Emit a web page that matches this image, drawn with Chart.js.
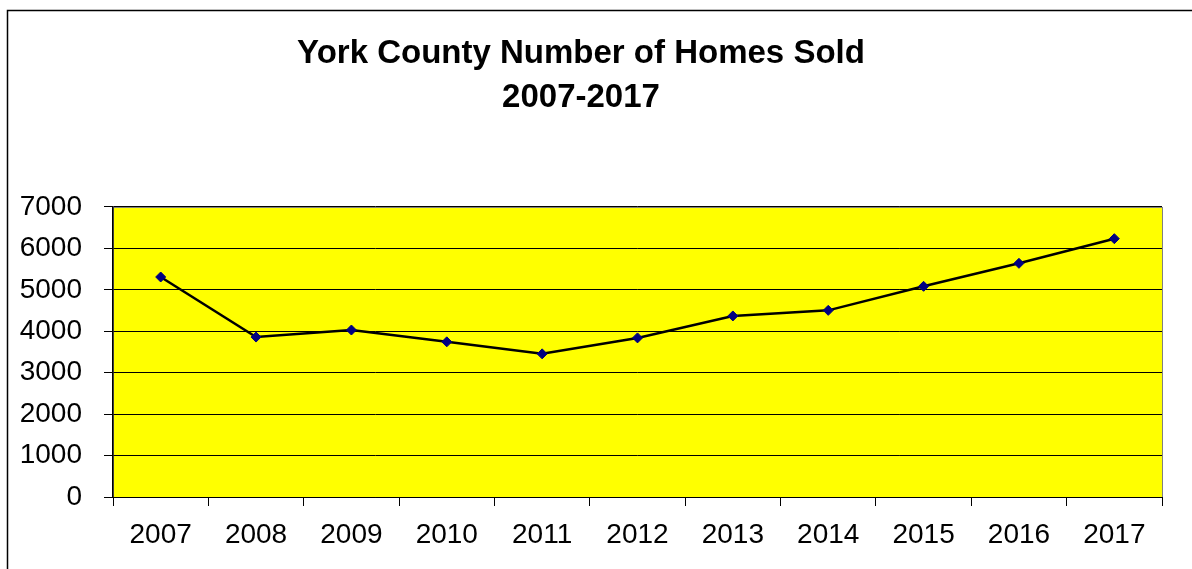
<!DOCTYPE html>
<html>
<head>
<meta charset="utf-8">
<script src="https://cdn.jsdelivr.net/npm/chart.js@4"></script>
<style>
  html, body { margin: 0; padding: 0; background: #fff; }
  canvas { display: block; }
</style>
</head>
<body>
<canvas id="homesChart" width="1192" height="569"></canvas>
<script>
const years = ['2007', '2008', '2009', '2010', '2011', '2012', '2013', '2014', '2015', '2016', '2017'];
const homesSold = [5310, 3860, 4030, 3745, 3455, 3840, 4370, 4505, 5085, 5640, 6235];
const yTicks = [0, 1000, 2000, 3000, 4000, 5000, 6000, 7000];

// yellow plot area, grey frame, outer box
const plotBackground = {
    id: 'plotBackground',
    beforeDraw(chart) {
        const { ctx, chartArea: a } = chart;
        ctx.save();
        ctx.fillStyle = '#ffff00';
        ctx.fillRect(a.left, a.top, a.right - a.left, a.bottom - a.top);
        ctx.strokeStyle = '#808080';
        ctx.lineWidth = 1;
        ctx.strokeRect(a.left + 0.5, a.top + 0.5, a.right - a.left, a.bottom - a.top);
        ctx.restore();
    },
    afterDraw(chart) {
        const ctx = chart.ctx;
        ctx.save();
        ctx.strokeStyle = '#000';
        ctx.lineWidth = 1.5;
        ctx.beginPath();
        ctx.moveTo(7.5, 569);
        ctx.lineTo(7.5, 10.5);
        ctx.lineTo(1192, 10.5);
        ctx.stroke();
        ctx.restore();
    }
};

const config = {
    type: 'line',
    data: {
        labels: years,
        datasets: [{
            label: 'Homes Sold',
            data: homesSold,
            borderColor: '#000000',
            borderWidth: 2.5,
            tension: 0,
            pointStyle: 'rectRot',
            pointRadius: 5,
            pointBackgroundColor: '#000080',
            pointBorderColor: '#000080',
            pointBorderWidth: 1
        }]
    },
    options: {
        responsive: false,
        animation: false,
        layout: { padding: { left: 0, right: 30, top: 0, bottom: 0 } },
        plugins: {
            legend: { display: false },
            tooltip: { enabled: false },
            title: {
                display: true,
                text: ['York County Number of Homes Sold', '2007-2017'],
                color: '#000',
                font: { family: 'Liberation Sans, Arial, sans-serif', size: 33, weight: 'bold', lineHeight: 1.333 },
                padding: { top: 32, bottom: 87 }
            }
        },
        scales: {
            x: {
                offset: true,
                afterFit(scale) { scale.height = 72; },
                grid: {
                    offset: true,
                    drawOnChartArea: false,
                    drawTicks: true,
                    tickLength: 9,
                    color: '#000'
                },
                border: { color: '#000', width: 1 },
                ticks: {
                    color: '#000',
                    padding: 12,
                    maxRotation: 0,
                    font: { family: 'Liberation Sans, Arial, sans-serif', size: 28 }
                }
            },
            y: {
                min: 0,
                max: 7000,
                afterFit(scale) { scale.width = 113; },
                afterBuildTicks(scale) { scale.ticks = yTicks.map(v => ({ value: v })); },
                grid: {
                    color: '#000',
                    lineWidth: 1,
                    tickLength: 9,
                    drawTicks: true
                },
                border: { color: '#000', width: 1.5 },
                ticks: {
                    color: '#000',
                    padding: 22,
                    callback: v => String(v),
                    font: { family: 'Liberation Sans, Arial, sans-serif', size: 28 }
                }
            }
        }
    },
    plugins: [plotBackground]
};

new Chart(document.getElementById('homesChart'), config);
</script>
</body>
</html>
